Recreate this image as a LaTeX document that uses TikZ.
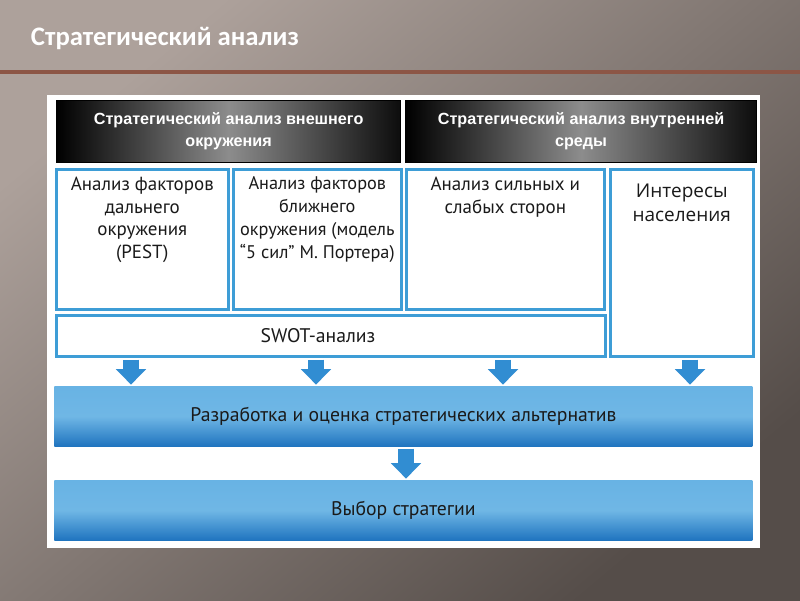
\documentclass[tikz,border=0pt]{standalone}
\usepackage{fontspec}
\setmainfont{PT Sans}
\newfontfamily\headfont{Liberation Sans}
\newfontfamily\titlefont{Carlito}
\newfontfamily\notefont{Open Sans}
\usetikzlibrary{positioning, arrows.meta}
\definecolor{bglight}{HTML}{ADA19B}
\definecolor{bgdark}{HTML}{554D49}
\definecolor{rulebrown}{HTML}{8C5646}
\definecolor{frameblue}{HTML}{3E9DD6}
\definecolor{fillblue}{HTML}{68B3E4}
\definecolor{deepblue}{HTML}{1F74BF}
\definecolor{arrowblue}{HTML}{318DD2}
\definecolor{inkdark}{HTML}{1A1A1A}

\begin{document}
\begin{tikzpicture}[x=0.025cm, y=-0.025cm,
    header/.style={rectangle, draw=black, line width=0.8pt, anchor=north west,
                left color=black, right color=black!95, middle color=black!45,
                minimum height=1.55cm, inner sep=0pt, align=center, text=white,
                font=\headfont\bfseries\fontsize{11.5}{15.6}\selectfont},
    box/.style={rectangle, draw=frameblue, line width=1.8pt, fill=white,
                anchor=north west, inner sep=0pt},
    boxtext/.style={anchor=north, align=center, text=inkdark, inner sep=0pt,
                font=\fontsize{13.5}{16.2}\selectfont},
    stage/.style={rectangle, anchor=north west, inner sep=0pt, text=inkdark,
                top color=fillblue, bottom color=deepblue, middle color=fillblue!95,
                minimum width=17.45cm, minimum height=1.5cm,
                font=\fontsize{14}{15.6}\selectfont},
    flow/.style={arrowblue, line width=12pt, -{Triangle[length=11pt, width=21pt]},
                shorten <=1.5pt, shorten >=1pt}
  ]
  % Background and title band
  \useasboundingbox (0,0) rectangle (800,600);
  \shade[top color=bglight, bottom color=bgdark, shading angle=40] (0,0) rectangle (800,600);
  \draw[rulebrown, line width=2.2pt] (0,72) -- (800,72);
  \node[anchor=west, text=white, font=\titlefont\bfseries\fontsize{19}{23}\selectfont] (title) at (26,38) {Стратегический анализ};

  % White panel
  \fill[white] (47,95) rectangle (760,548);

  % Headers
  \node[header, minimum width=8.6cm] (outer) at (56,100) {Стратегический анализ внешнего\\окружения};
  \node[header, minimum width=8.75cm, right=3pt of outer] (inner) {Стратегический анализ внутренней\\среды};

  % Analysis boxes
  \node[box, minimum width=4.3cm, minimum height=3.5cm] (pest) at (55,168) {};
  \node[box, minimum width=4.2cm, minimum height=3.5cm] (porter) at (232,168) {};
  \node[box, minimum width=4.95cm, minimum height=3.5cm] (swotin) at (405,168) {};
  \node[box, minimum width=3.575cm, minimum height=4.675cm] (people) at (609,168) {};
  \node[box, minimum width=13.725cm, minimum height=1.025cm] (swot) at (55,314) {};

  \node[boxtext, below=6pt of pest.north] (pesttxt) {Анализ факторов\\дальнего\\окружения\\(PEST)};
  \node[boxtext, below=6pt of porter.north, font=\fontsize{13}{16.2}\selectfont] (portertxt) {Анализ факторов\\ближнего\\окружения (модель\\“5 сил” М. Портера)};
  \node[boxtext, below=6pt of swotin.north] (swotintxt) {Анализ сильных и\\слабых сторон};
  \node[boxtext, below=11pt of people.north, font=\notefont\fontsize{13.5}{17}\selectfont] (peopletxt) {Интересы\\населения};
  \node[text=inkdark, font=\fontsize{14}{15.6}\selectfont, xshift=-0.32cm] (swottxt) at (swot.center) {SWOT-анализ};

  % Stages
  \node[stage] (develop) at (54,386) {Разработка и оценка стратегических альтернатив};
  \node[stage] (choice) at (54,480) {Выбор стратегии};

  % Connections
  \draw[flow] (swot.south -| 131,0) -- (develop.north -| 131,0);
  \draw[flow] (swot.south -| 316,0) -- (develop.north -| 316,0);
  \draw[flow] (swot.south -| 503,0) -- (develop.north -| 503,0);
  \draw[flow] (people.south -| 690,0) -- (develop.north -| 690,0);
  \draw[flow] (develop.south -| 406,0) -- (choice.north -| 406,0);
\end{tikzpicture}
\end{document}
